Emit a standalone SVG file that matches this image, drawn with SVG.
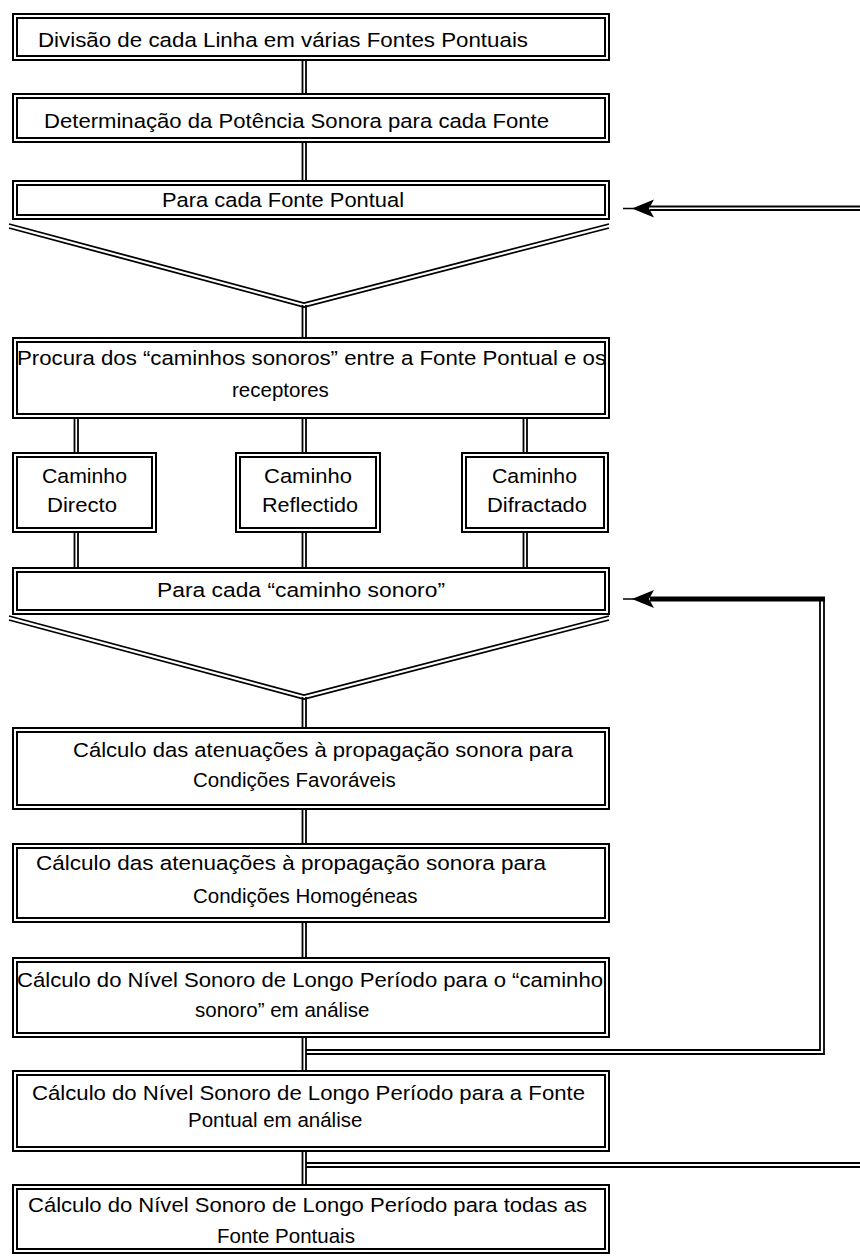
<svg xmlns="http://www.w3.org/2000/svg" width="860" height="1260" viewBox="0 0 860 1260">
<style>
.o{fill:#fff;stroke:#000;stroke-width:2}
.i{fill:none;stroke:#000;stroke-width:2}
.c{fill:none;stroke:#000;stroke-width:1.8}
.t{font-family:"Liberation Sans",Arial,sans-serif;font-size:20.5px;fill:#000}
</style>
<defs>
<g id="arr">
<line x1="0" y1="0" x2="12" y2="0" stroke="#000" stroke-width="1.5"/>
<polygon points="9,0 31,-9 26,0 31,9" fill="#000"/>
</g>
</defs>
<g id="connectors">
<path class="c" d="M302.5,61V93M306,61V93M302.5,143V180M306,143V180"/>
<path class="c" d="M9,224L304,303L609,224M9,228L304,307L609,228"/>
<path class="c" d="M302.5,305V337M306,305V337"/>
<path class="c" d="M74.5,419V452M78,419V452M302.5,419V452M306,419V452M523.5,419V452M527,419V452"/>
<path class="c" d="M74.5,533V567M78,533V567M302.5,533V567M306,533V567M523.5,533V567M527,533V567"/>
<path class="c" d="M9,616L304,695L609,616M9,620L304,699L609,620"/>
<path class="c" d="M302.5,697V727M306,697V727"/>
<path class="c" d="M302.5,810V843M306,810V843M302.5,923V957M306,923V957"/>
<path class="c" d="M302.5,1038V1070M306,1038V1070M302.5,1152V1184M306,1152V1184"/>
<path class="c" d="M306,1050H820V597M306,1054H824V597"/>
<line x1="650" y1="599" x2="825" y2="599" stroke="#000" stroke-width="5"/>
<use href="#arr" x="623" y="599"/>
<path class="c" d="M306,1163H860M306,1167H860"/>
<path class="c" d="M650,206.5H860M650,210H860"/>
<use href="#arr" x="623" y="208.5"/>
</g>
<g id="n1">
<rect class="o" x="13" y="14" width="596" height="46"/>
<rect class="i" x="17" y="18" width="588" height="38"/>
<text class="t" x="38" y="47" textLength="490" lengthAdjust="spacingAndGlyphs">Divisão de cada Linha em várias Fontes Pontuais</text>
</g>
<g id="n2">
<rect class="o" x="13" y="94" width="596" height="48"/>
<rect class="i" x="17" y="98" width="588" height="40"/>
<text class="t" x="44" y="128" textLength="505" lengthAdjust="spacingAndGlyphs">Determinação da Potência Sonora para cada Fonte</text>
</g>
<g id="n3">
<rect class="o" x="13" y="181" width="596" height="38"/>
<rect class="i" x="17" y="185" width="588" height="30"/>
<text class="t" x="162" y="207" textLength="242" lengthAdjust="spacingAndGlyphs">Para cada Fonte Pontual</text>
</g>
<g id="n4">
<rect class="o" x="13" y="338" width="596" height="80"/>
<rect class="i" x="17" y="342" width="588" height="72"/>
<text class="t" x="17" y="365" textLength="589" lengthAdjust="spacingAndGlyphs">Procura dos “caminhos sonoros” entre a Fonte Pontual e os</text>
<text class="t" x="232" y="397">receptores</text>
</g>
<g id="s1">
<rect class="o" x="13" y="453" width="143" height="79"/>
<rect class="i" x="17" y="457" width="135" height="71"/>
<text class="t" x="42" y="483" textLength="85" lengthAdjust="spacingAndGlyphs">Caminho</text>
<text class="t" x="47" y="512" textLength="70" lengthAdjust="spacingAndGlyphs">Directo</text>
</g>
<g id="s2">
<rect class="o" x="236" y="453" width="144" height="79"/>
<rect class="i" x="240" y="457" width="136" height="71"/>
<text class="t" x="264" y="483" textLength="88" lengthAdjust="spacingAndGlyphs">Caminho</text>
<text class="t" x="262" y="512" textLength="96" lengthAdjust="spacingAndGlyphs">Reflectido</text>
</g>
<g id="s3">
<rect class="o" x="462" y="453" width="146" height="79"/>
<rect class="i" x="466" y="457" width="138" height="71"/>
<text class="t" x="492" y="483" textLength="85" lengthAdjust="spacingAndGlyphs">Caminho</text>
<text class="t" x="487" y="512" textLength="100" lengthAdjust="spacingAndGlyphs">Difractado</text>
</g>
<g id="n5">
<rect class="o" x="13" y="568" width="596" height="46"/>
<rect class="i" x="17" y="572" width="588" height="38"/>
<text class="t" x="157" y="597" textLength="288" lengthAdjust="spacingAndGlyphs">Para cada “caminho sonoro”</text>
</g>
<g id="n6">
<rect class="o" x="13" y="728" width="596" height="81"/>
<rect class="i" x="17" y="732" width="588" height="73"/>
<text class="t" x="73" y="757" textLength="500" lengthAdjust="spacingAndGlyphs">Cálculo das atenuações à propagação sonora para</text>
<text class="t" x="193" y="787">Condições Favoráveis</text>
</g>
<g id="n7">
<rect class="o" x="13" y="844" width="596" height="78"/>
<rect class="i" x="17" y="848" width="588" height="70"/>
<text class="t" x="36" y="870" textLength="510" lengthAdjust="spacingAndGlyphs">Cálculo das atenuações à propagação sonora para</text>
<text class="t" x="193" y="903">Condições Homogéneas</text>
</g>
<g id="n8">
<rect class="o" x="13" y="958" width="596" height="79"/>
<rect class="i" x="17" y="962" width="588" height="71"/>
<text class="t" x="17" y="987" textLength="586" lengthAdjust="spacingAndGlyphs">Cálculo do Nível Sonoro de Longo Período para o “caminho</text>
<text class="t" x="195" y="1017">sonoro” em análise</text>
</g>
<g id="n9">
<rect class="o" x="13" y="1071" width="596" height="80"/>
<rect class="i" x="17" y="1075" width="588" height="72"/>
<text class="t" x="32" y="1100" textLength="553" lengthAdjust="spacingAndGlyphs">Cálculo do Nível Sonoro de Longo Período para a Fonte</text>
<text class="t" x="188" y="1127">Pontual em análise</text>
</g>
<g id="n10">
<rect class="o" x="13" y="1185" width="596" height="68"/>
<rect class="i" x="17" y="1189" width="588" height="60" stroke="#555"/>
<text class="t" x="28" y="1212" textLength="559" lengthAdjust="spacingAndGlyphs">Cálculo do Nível Sonoro de Longo Período para todas as</text>
<text class="t" x="217" y="1243">Fonte Pontuais</text>
</g>
</svg>
